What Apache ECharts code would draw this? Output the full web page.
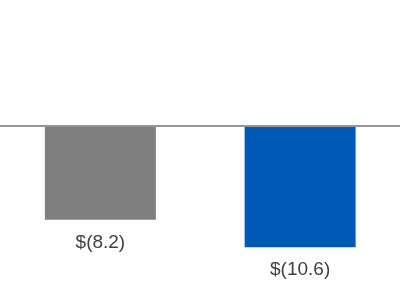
<!DOCTYPE html>
<html><head><meta charset="utf-8">
<script src="https://cdn.jsdelivr.net/npm/echarts@6/dist/echarts.min.js"></script>
<style>html,body{margin:0;padding:0;background:#fff}#c{width:400px;height:300px}</style>
</head><body><div id="c"></div>
<script>
var categories = ['A', 'B'];
var values = [-8.2, -10.6];
var labels = ['$(8.2)', '$(10.6)'];
var colors = ['#7f7f7f', '#0059b5'];

var chart = echarts.init(document.getElementById('c'), null, {renderer: 'canvas'});
chart.setOption({
  animation: false,
  grid: {left: 0.5, width: 402, top: 11.6, height: 286},
  xAxis: {
    type: 'category', data: categories, z: 5,
    axisLine: {onZero: true, lineStyle: {color: '#969696', width: 2}},
    axisTick: {show: false}, axisLabel: {show: false}
  },
  yAxis: {
    type: 'value', min: -15, max: 10, show: false, splitLine: {show: false}
  },
  series: [{
    type: 'bar',
    barWidth: 111,
    data: values.map(function (v, i) {
      return {value: v, itemStyle: {color: colors[i]},
        label: {formatter: labels[i]}};
    }),
    label: {
      show: true, position: 'bottom', distance: 13,
      fontFamily: 'Liberation Sans, Arial, sans-serif', fontSize: 19, color: '#404040'
    }
  }]
});
</script></body></html>
